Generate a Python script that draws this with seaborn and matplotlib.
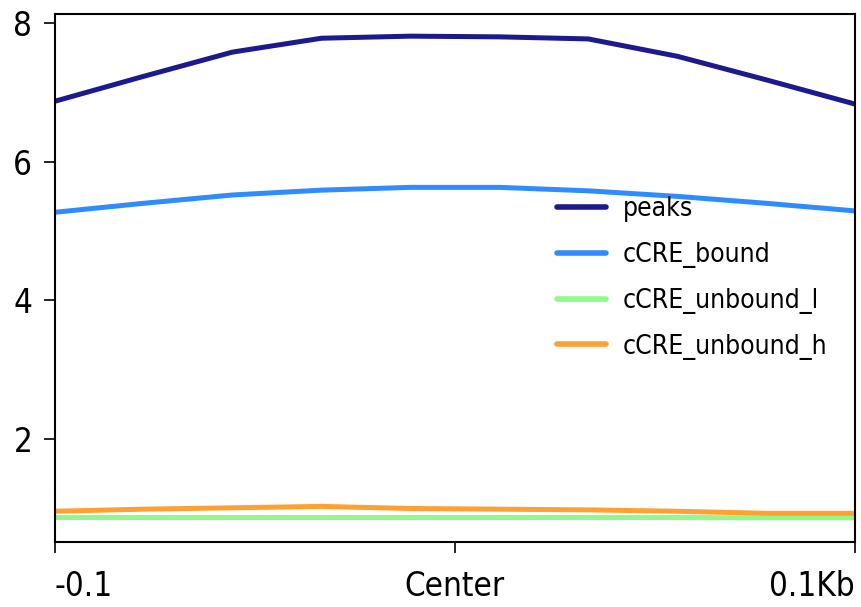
import matplotlib
matplotlib.use("Agg")
import matplotlib.pyplot as plt
from matplotlib import font_manager
import seaborn as sns
import pandas as pd
import numpy as np

# ---- data ----
bins = [0, 1, 2, 3, 4, 5, 6, 7, 8, 9]
peaks = [6.87, 7.23, 7.58, 7.78, 7.81, 7.80, 7.77, 7.52, 7.18, 6.83]
ccre_bound = [5.27, 5.40, 5.52, 5.59, 5.63, 5.63, 5.58, 5.50, 5.40, 5.29]
ccre_unbound_l = [0.87, 0.87, 0.87, 0.87, 0.87, 0.87, 0.87, 0.87, 0.865, 0.865]
ccre_unbound_h = [0.96, 0.99, 1.01, 1.03, 1.00, 0.99, 0.98, 0.96, 0.93, 0.93]
series_names = ["peaks", "cCRE_bound", "cCRE_unbound_l", "cCRE_unbound_h"]
colors = ["#1c1a8e", "#2f8cff", "#8ff98a", "#ffa030"]
xtick_pos = [0, 4.5, 9]
xtick_labels = ["-0.1", "Center", "0.1Kb"]
ytick_pos = [2, 4, 6, 8]

sns.set_theme(style="ticks")

# pick the narrowest available sans font
entries = font_manager.fontManager.ttflist
names = {f.name for f in entries}
fam, stretch = "DejaVu Sans", "normal"
if "Liberation Sans Narrow" in names:
    fam = "Liberation Sans Narrow"
elif any("DejaVuSansCondensed" in f.fname.replace("-", "") for f in entries):
    fam, stretch = "DejaVu Sans", "condensed"
plt.rcParams["font.family"] = [fam, "DejaVu Sans"]
plt.rcParams["font.stretch"] = stretch

df = pd.DataFrame({
    "bin": bins * 4,
    "value": peaks + ccre_bound + ccre_unbound_l + ccre_unbound_h,
    "sample": sum([[n] * len(bins) for n in series_names], []),
})

fig = plt.figure(figsize=(8.61, 6.07), dpi=100)
renderer = fig.canvas.get_renderer()


def size_for_width(txt, target_px):
    t = fig.text(0, 0, txt, fontsize=10)
    w = t.get_window_extent(renderer).width
    t.remove()
    return 10 * target_px / w


tick_fs = min(size_for_width("Center", 100), 28)
leg_fs = min(size_for_width("cCRE_unbound_h", 205), 22)

ax = fig.add_axes([0.0633, 0.107, 0.930, 0.870])
sns.lineplot(data=df, x="bin", y="value", hue="sample", hue_order=series_names,
             palette=colors, linewidth=3.6, ax=ax)

ax.set_xlim(0, 9)
ax.set_ylim(0.516, 8.13)
ax.set_xticks(xtick_pos)
ax.set_xticklabels(xtick_labels)
ax.set_yticks(ytick_pos)
ax.set_xlabel("")
ax.set_ylabel("")
ax.tick_params(axis="both", labelsize=tick_fs, length=8, width=1.2, color="black",
               labelcolor="black")
ax.tick_params(axis="x", pad=12)
ax.tick_params(axis="y", pad=8)
labs = ax.get_xticklabels()
labs[0].set_ha("left")
labs[-1].set_ha("right")
for s in ax.spines.values():
    s.set_color("black")
    s.set_linewidth(1.5)

leg = ax.legend(loc="upper left", bbox_to_anchor=(0.614, 0.675), frameon=False,
                fontsize=leg_fs, handlelength=1.85, handletextpad=0.65,
                labelspacing=0.75, borderaxespad=0)
for line in leg.get_lines():
    line.set_linewidth(4)
for t in leg.get_texts():
    t.set_color("black")

fig.savefig("out.png", dpi=100)
